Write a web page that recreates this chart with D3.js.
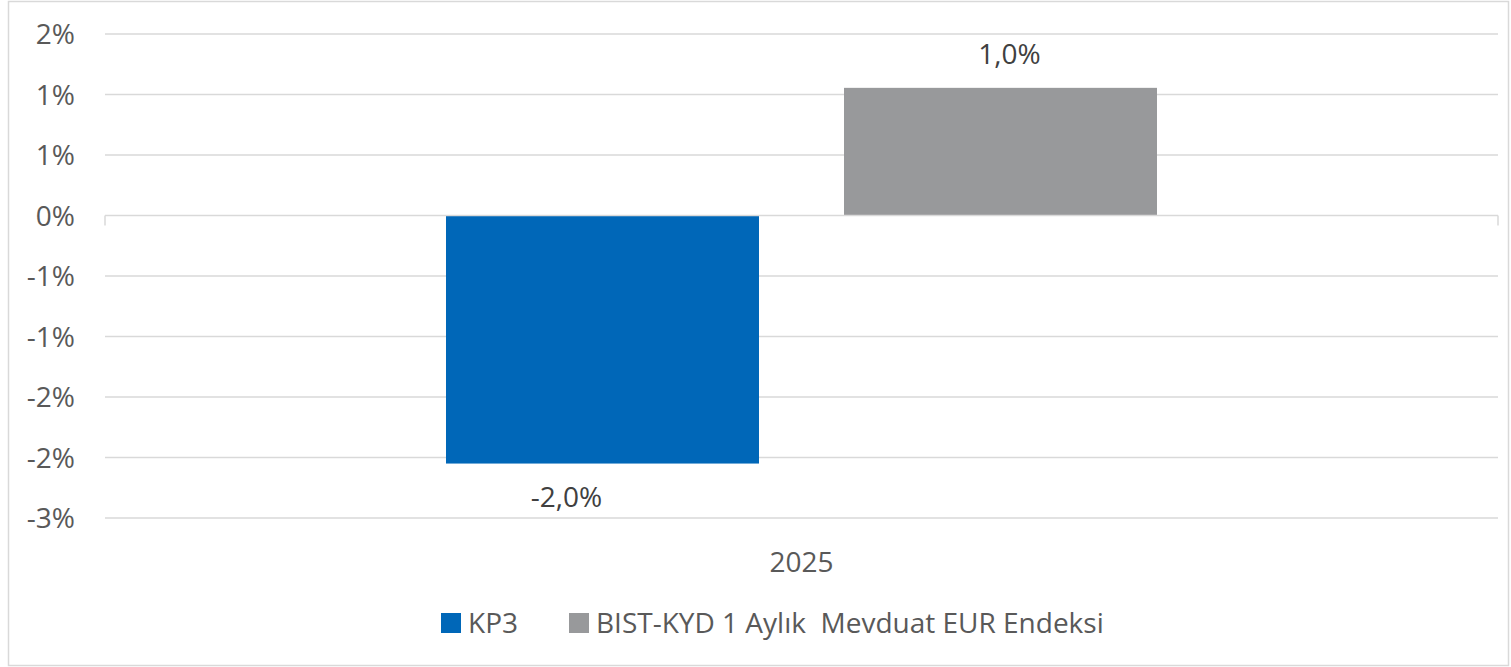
<!DOCTYPE html>
<html>
<head>
<meta charset="utf-8">
<script src="https://cdn.jsdelivr.net/npm/d3@7"></script>
<style>
  body { margin: 0; background: #fff; }
  svg { display: block; font-family: "Open Sans", Calibri, sans-serif; }
</style>
</head>
<body>
<svg id="chart" width="1511" height="667"></svg>
<script>
// chart data
const categories = ["2025"];
const seriesNames = ["KP3", "BIST-KYD 1 Aylık  Mevduat EUR Endeksi"];
const seriesValues = [-2.05, 1.055];
const valueLabels = ["-2,0%", "1,0%"];
const seriesColors = ["#0067b8", "#98999b"];
const yTicks = [1.5, 1.0, 0.5, 0, -0.5, -1.0, -1.5, -2.0, -2.5];
const yTickLabels = ["2%", "1%", "1%", "0%", "-1%", "-1%", "-2%", "-2%", "-3%"];

const svg = d3.select("#chart");
const margin = { top: 34, right: 13, bottom: 149, left: 105 };
const width = 1511 - margin.left - margin.right;
const height = 667 - margin.top - margin.bottom;
const fontSize = 28;

// outer frame
svg.append("rect")
    .attr("x", 8.5).attr("y", 1.5)
    .attr("width", 1500).attr("height", 664)
    .attr("fill", "none").attr("stroke", "#d9d9d9").attr("stroke-width", 1.5);

let g = svg.append("g").attr("transform", `translate(${margin.left},${margin.top})`);

let y = d3.scaleLinear().domain([-2.5, 1.5]).range([height, 0]);
let x0 = d3.scaleBand().domain(categories).range([0, width]).paddingOuter(0.4796);
let x1 = d3.scaleBand().domain(seriesNames).range([0, x0.bandwidth()]).paddingInner(0.2136);

// gridlines
g.selectAll("line.grid").data(yTicks.filter(d => d !== 0))
    .join("line")
    .attr("class", "grid")
    .attr("x1", 0).attr("x2", width)
    .attr("y1", d => y(d)).attr("y2", d => y(d))
    .attr("stroke", "#d9d9d9").attr("stroke-width", 1.5);

// y labels
g.selectAll("text.ytick").data(yTicks)
    .join("text")
    .attr("class", "ytick")
    .attr("x", -30)
    .attr("y", d => y(d))
    .attr("dy", "0.36em")
    .attr("text-anchor", "end")
    .attr("font-size", fontSize)
    .attr("fill", "#595959")
    .text((d, i) => yTickLabels[i]);

// bars
let groups = g.selectAll("g.cat").data(categories)
    .join("g")
    .attr("class", "cat")
    .attr("transform", d => `translate(${x0(d)},0)`);

groups.selectAll("rect").data(seriesNames.map((s, i) => ({ s, v: seriesValues[i], c: seriesColors[i] })))
    .join("rect")
    .attr("x", d => x1(d.s))
    .attr("width", x1.bandwidth())
    .attr("y", d => y(Math.max(0, d.v)))
    .attr("height", d => Math.abs(y(d.v) - y(0)))
    .attr("fill", d => d.c);

// value labels (Excel nudges them a little off-centre)
groups.selectAll("text.vlabel").data(seriesNames.map((s, i) => ({ s, v: seriesValues[i], l: valueLabels[i] })))
    .join("text")
    .attr("class", "vlabel")
    .attr("x", d => x1(d.s) + x1.bandwidth() / 2 + (d.v >= 0 ? 9 : -36))
    .attr("y", d => d.v >= 0 ? y(d.v) - 24 : y(d.v) + 43)
    .attr("text-anchor", "middle")
    .attr("font-size", fontSize)
    .attr("fill", "#404040")
    .text(d => d.l);

// zero axis with end ticks
let zeroAxis = g.append("g");
zeroAxis.append("line")
    .attr("x1", 0).attr("x2", width)
    .attr("y1", y(0)).attr("y2", y(0))
    .attr("stroke", "#d9d9d9").attr("stroke-width", 1.5);
[0, width].forEach(xx => {
    zeroAxis.append("line")
        .attr("x1", xx).attr("x2", xx)
        .attr("y1", y(0)).attr("y2", y(0) + 10)
        .attr("stroke", "#d9d9d9").attr("stroke-width", 1.5);
});

// category label
g.selectAll("text.cat").data(categories)
    .join("text")
    .attr("class", "cat")
    .attr("x", d => x0(d) + x0.bandwidth() / 2)
    .attr("y", height + 54)
    .attr("text-anchor", "middle")
    .attr("font-size", fontSize)
    .attr("fill", "#595959")
    .text(d => d);

// legend
let legend = svg.append("g").attr("transform", "translate(441,613)");
let legX = [0, 128];
seriesNames.forEach((s, i) => {
    let item = legend.append("g").attr("transform", `translate(${legX[i]},0)`);
    item.append("rect").attr("width", 20).attr("height", 20).attr("fill", seriesColors[i]);
    item.append("text")
        .attr("x", 27).attr("y", 10).attr("dy", "0.36em")
        .attr("font-size", fontSize)
        .attr("fill", "#595959")
        .style("white-space", "pre")
        .text(s);
});
</script>
</body>
</html>
